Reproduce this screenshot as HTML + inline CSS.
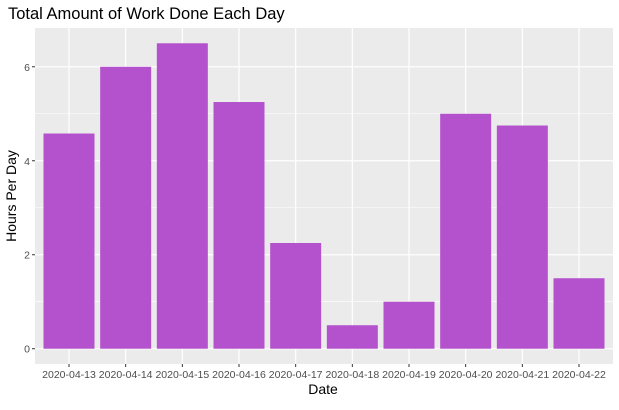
<!DOCTYPE html>
<html><head><meta charset="utf-8"><style>
html,body{margin:0;padding:0;background:#fff;}
svg text{font-family:"Liberation Sans",Arial,sans-serif;}
</style></head><body>
<svg id="chart" width="619" height="405" xmlns="http://www.w3.org/2000/svg">
<text x="8" y="19" font-size="16.5" fill="#000">Total Amount of Work Done Each Day</text>
<rect x="35" y="28" width="578" height="336" fill="#EBEBEB"/>
<g id="grid"></g>
<g id="bars"></g>
<g id="yaxis"></g>
<g id="xaxis"></g>
<text x="323" y="394" font-size="14" text-anchor="middle" fill="#000">Date</text>
<text transform="translate(16,196) rotate(-90)" font-size="14" text-anchor="middle" fill="#000">Hours Per Day</text>
</svg>
<script>
const categories=["2020-04-13","2020-04-14","2020-04-15","2020-04-16","2020-04-17","2020-04-18","2020-04-19","2020-04-20","2020-04-21","2020-04-22"];
const hours=[4.58,6,6.5,5.25,2.25,0.5,1,5,4.75,1.5];
const yTicks=[0,2,4,6];
const yMinor=[1,3,5];
const NS="http://www.w3.org/2000/svg";
const pL=35,pR=613,pT=28,pB=364;
const yMax=Math.max(...hours)*1.05, yMin=-Math.max(...hours)*0.05;
function y(v){return pB-(v-yMin)/(yMax-yMin)*(pB-pT);}
const step=(pR-pL)/(categories.length-1+1.2);
function x(i){return pL+step*(0.6+i);}
function el(t,a,p){const e=document.createElementNS(NS,t);for(const k in a)e.setAttribute(k,a[k]);p.appendChild(e);return e;}
const grid=document.getElementById('grid'),bars=document.getElementById('bars'),ya=document.getElementById('yaxis'),xa=document.getElementById('xaxis');
yMinor.forEach(v=>{const l=el('line',{x1:pL,x2:pR,y1:y(v),y2:y(v),stroke:'#fff','stroke-width':0.6},grid);

});
yTicks.forEach(v=>{const l=el('line',{x1:pL,x2:pR,y1:y(v),y2:y(v),stroke:'#fff','stroke-width':1.2},grid);


const t=el('line',{x1:pL-3,x2:pL,y1:y(v),y2:y(v),stroke:'#333','stroke-width':1},ya);


const tx=el('text',{x:pL-5,y:y(v)+4,'font-size':10.5,'text-anchor':'end',fill:'#4D4D4D'},ya);tx.textContent=v;

});
categories.forEach((c,i)=>{const l=el('line',{x1:x(i),x2:x(i),y1:pT,y2:pB,stroke:'#fff','stroke-width':1.2},grid);


const w=step*0.9;
const b=el('rect',{x:x(i)-w/2,y:y(hours[i]),width:w,height:y(0)-y(hours[i]),fill:'#B452CD'},bars);


const t=el('line',{x1:x(i),x2:x(i),y1:pB,y2:pB+3,stroke:'#333','stroke-width':1},xa);


const tx=el('text',{x:x(i),y:pB+14,'font-size':10.5,'text-anchor':'middle',fill:'#4D4D4D'},xa);tx.textContent=c;

});
</script>
</body></html>
